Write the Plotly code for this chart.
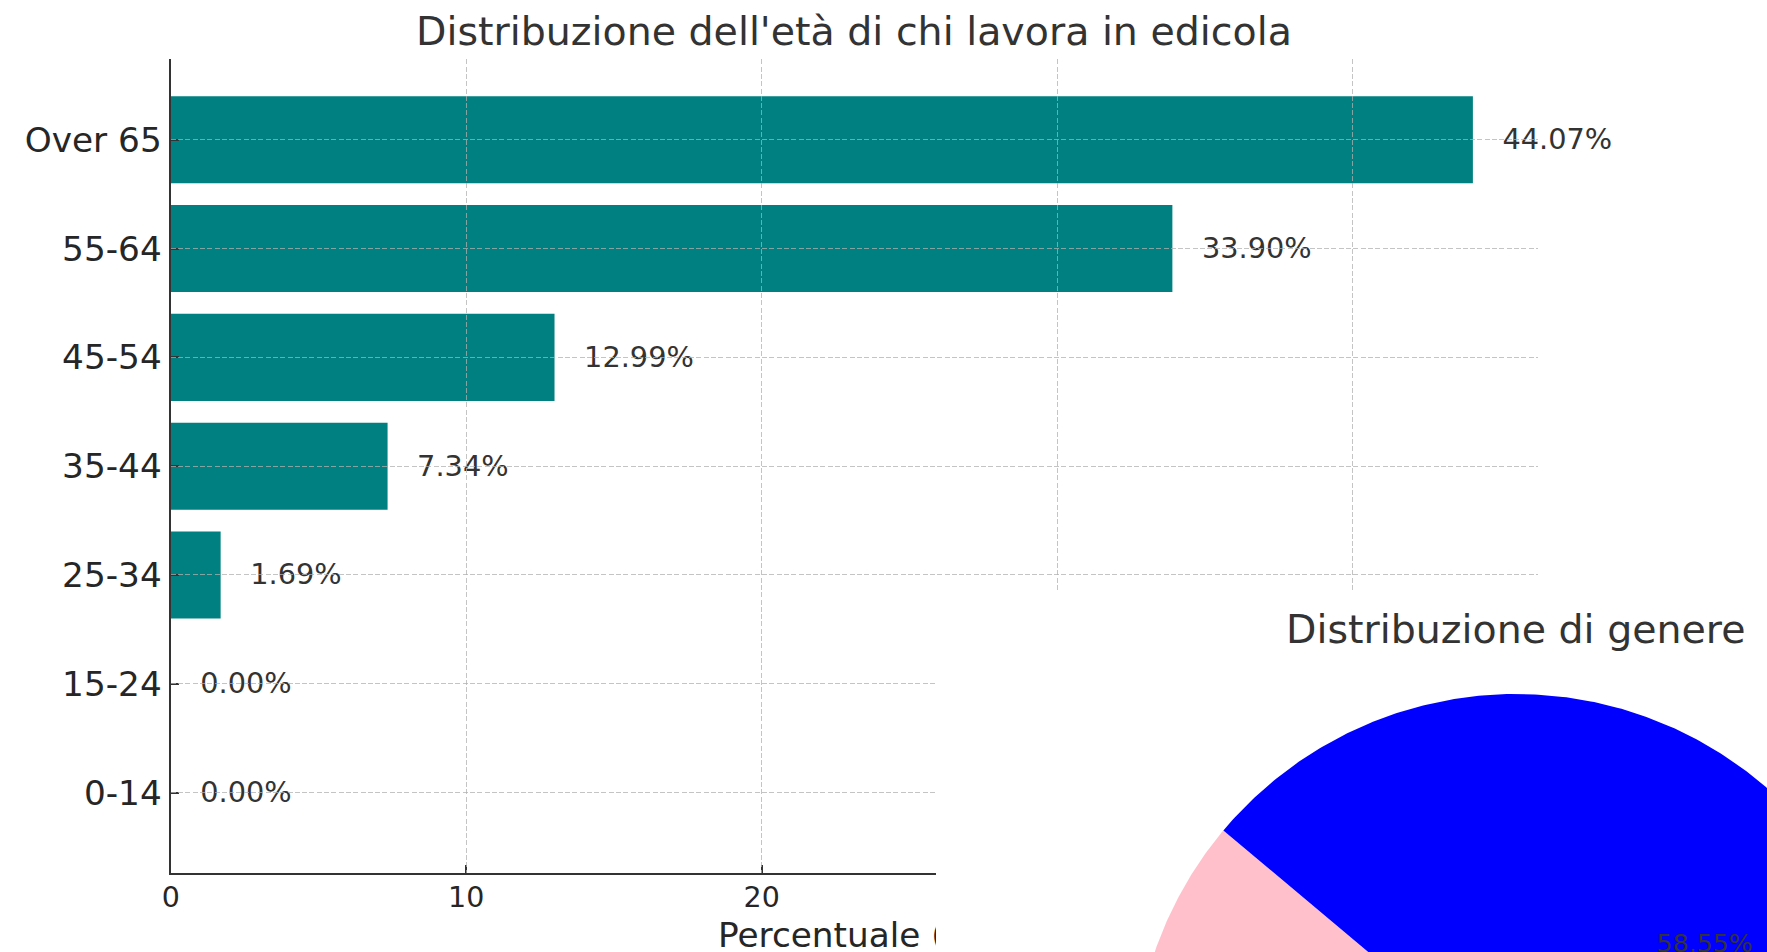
import numpy as np
import plotly.graph_objects as go

# ------------------------------------------------------------------ data
age_groups = ["0-14", "15-24", "25-34", "35-44", "45-54", "55-64", "Over 65"]
age_pct = [0.00, 0.00, 1.69, 7.34, 12.99, 33.90, 44.07]

gender_labels = ["Donne", "Uomini"]
gender_pct = [41.45, 58.55]

x_tick_vals = [0, 10, 20, 30, 40]

title_bar = "Distribuzione dell'età di chi lavora in edicola"
title_pie = "Distribuzione di genere"
x_title = "Percentuale (%)"

# ------------------------------------------------------------------ style / layout constants
W, H = 1767, 952
FONT = "DejaVu Sans"
TEAL = "#008080"
PIE_COLORS = ["#FFC0CB", "#0000FF"]
TEXT_DARK = "#333333"
TICK_TXT = "#262626"
AXIS_COL = "#333333"
GRID_COL = "rgba(176,176,176,0.75)"

# bar-axes box (pixels)
BX0, BX1, BY0, BY1 = 170.7, 1538.0, 59.3, 873.0
# pie axes box (pixels) and pie geometry
PX0, PY0 = 936.0, 591.0
PIE_CX, PIE_CY, PIE_R = 1516.0, 1076.0, 382.0
START_ANGLE = 140.0
XTITLE_BASELINE = 947.0
LABEL_DY_PX = 2.3

TITLE_SIZE = 39.5
YTICK_SIZE = 34.3
XTICK_SIZE = 28.5
LABEL_SIZE = 28.8
PIE_LABEL_SIZE = 25.2

BAR_W = 0.8
ypos = list(range(len(age_groups)))
x_max = max(age_pct) * 1.05
span = (len(age_groups) - 1) + BAR_W
y_lo = -BAR_W / 2 - 0.05 * span
y_hi = (len(age_groups) - 1) + BAR_W / 2 + 0.05 * span
ppu_y = (BY1 - BY0) / (y_hi - y_lo)

fig = go.Figure()

# bars
fig.add_trace(go.Bar(
    x=age_pct, y=ypos, orientation="h", width=BAR_W,
    marker=dict(color=TEAL, line=dict(width=0)),
    xaxis="x", yaxis="y", showlegend=False,
    customdata=age_groups, hovertemplate="%{customdata}: %{x:.2f}%<extra></extra>",
))
# value labels
fig.add_trace(go.Scatter(
    x=[v + 1 for v in age_pct], y=[p - LABEL_DY_PX / ppu_y for p in ypos], mode="text",
    text=[f"{v:.2f}%" for v in age_pct], textposition="middle right",
    textfont=dict(family=FONT, size=LABEL_SIZE, color=TEXT_DARK),
    cliponaxis=False, xaxis="x", yaxis="y", showlegend=False, hoverinfo="skip",
))
# overlay subplot carrying the grid (so it shows above the bars)
fig.add_trace(go.Scatter(x=[], y=[], xaxis="x2", yaxis="y2", showlegend=False, hoverinfo="skip"))

# x-axis title on a thin strip subplot under the bar axes (so the pie panel can overlap it)
strip_h = H - BY1
fig.add_trace(go.Scatter(
    x=[0.5], y=[(H - (XTITLE_BASELINE - 0.25 * YTICK_SIZE)) / strip_h], mode="text",
    text=[x_title], textposition="middle center",
    textfont=dict(family=FONT, size=YTICK_SIZE, color=TICK_TXT),
    cliponaxis=False, xaxis="x3", yaxis="y3", showlegend=False, hoverinfo="skip",
))

# pie wedges on subplot 4 (unit radius, centred at 0,0)
cum = 0.0
mids = []
for lab, val, col in zip(gender_labels, gender_pct, PIE_COLORS):
    t0 = START_ANGLE + 360.0 * cum / 100.0
    t1 = START_ANGLE + 360.0 * (cum + val) / 100.0
    th = np.radians(np.linspace(t0, t1, 400))
    xs = np.concatenate([[0.0], np.cos(th), [0.0]])
    ys = np.concatenate([[0.0], np.sin(th), [0.0]])
    fig.add_trace(go.Scatter(
        x=xs, y=ys, mode="lines", fill="toself", fillcolor=col,
        line=dict(width=0, color=col), xaxis="x4", yaxis="y4",
        name=lab, showlegend=False, hoverinfo="name",
    ))
    mids.append(np.radians((t0 + t1) / 2))
    cum += val

fig.add_trace(go.Scatter(
    x=[0.6 * np.cos(m) for m in mids], y=[0.6 * np.sin(m) for m in mids],
    mode="text", text=[f"{v:.2f}%" for v in gender_pct], textposition="middle center",
    textfont=dict(family=FONT, size=PIE_LABEL_SIZE, color=TEXT_DARK),
    xaxis="x4", yaxis="y4", showlegend=False, hoverinfo="skip",
))

# pie axes ranges from pixel geometry
x4_range = [(PX0 - PIE_CX) / PIE_R, (W - PIE_CX) / PIE_R]
y4_range = [(PIE_CY - H) / PIE_R, (PIE_CY - PY0) / PIE_R]

xdom = [BX0 / W, BX1 / W]
ydom = [1 - BY1 / H, 1 - BY0 / H]

common_axis = dict(
    showline=True, linecolor=AXIS_COL, linewidth=2.2, mirror=False,
    ticks="inside", ticklen=8, tickwidth=2, tickcolor=AXIS_COL,
    zeroline=False, showgrid=False, fixedrange=True,
)
grid_axis = dict(
    showgrid=True, gridcolor=GRID_COL, gridwidth=1.4, griddash="5px,2.3px",
    showticklabels=False, ticks="", showline=False, zeroline=False, fixedrange=True,
)

fig.update_layout(
    width=W, height=H,
    margin=dict(l=0, r=0, t=0, b=0, autoexpand=False),
    paper_bgcolor="white", plot_bgcolor="rgba(0,0,0,0)",
    font=dict(family=FONT, color=TEXT_DARK),
    xaxis=dict(domain=xdom, range=[0, x_max], anchor="y", tickmode="array",
               tickvals=x_tick_vals, tickfont=dict(family=FONT, size=XTICK_SIZE, color=TICK_TXT),
               ticklabelstandoff=-2, **common_axis),
    yaxis=dict(domain=ydom, range=[y_lo, y_hi], anchor="x", tickmode="array",
               tickvals=ypos, ticktext=age_groups,
               tickfont=dict(family=FONT, size=YTICK_SIZE, color=TICK_TXT), **common_axis),
    xaxis2=dict(domain=xdom, range=[0, x_max], anchor="y2", tickmode="array",
                tickvals=x_tick_vals, **grid_axis),
    yaxis2=dict(domain=ydom, range=[y_lo, y_hi], anchor="x2", tickmode="array",
                tickvals=ypos, **grid_axis),
    xaxis3=dict(domain=xdom, range=[0, 1], anchor="y3", visible=False, fixedrange=True),
    yaxis3=dict(domain=[0, 1 - BY1 / H], range=[0, 1], anchor="x3", visible=False, fixedrange=True),
    xaxis4=dict(domain=[PX0 / W, 1], range=x4_range, anchor="y4", visible=False, fixedrange=True),
    yaxis4=dict(domain=[0, 1 - PY0 / H], range=y4_range, anchor="x4", visible=False, fixedrange=True),
    shapes=[dict(type="rect", xref="x4", yref="y4",
                 x0=x4_range[0], x1=x4_range[1], y0=y4_range[0], y1=y4_range[1],
                 fillcolor="white", line=dict(width=0), layer="below")],
    annotations=[
        dict(text=title_bar, xref="paper", yref="paper", x=(BX0 + BX1) / 2 / W, y=1 - 31.5 / H,
             xanchor="center", yanchor="middle", showarrow=False,
             font=dict(family=FONT, size=TITLE_SIZE, color=TEXT_DARK)),
        dict(text=title_pie, xref="paper", yref="paper", x=PIE_CX / W, y=1 - 628.5 / H,
             xanchor="center", yanchor="middle", showarrow=False,
             font=dict(family=FONT, size=TITLE_SIZE, color=TEXT_DARK)),
    ],
)

fig.write_html(
    "out.html",
    config={"displayModeBar": False},
    post_script="document.body.style.margin='0px';document.body.style.overflow='hidden';",
)
